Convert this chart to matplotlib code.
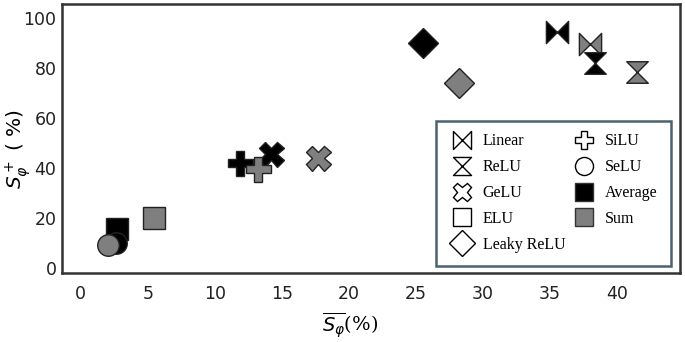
import matplotlib
matplotlib.use("Agg")
import matplotlib.pyplot as plt
from matplotlib.path import Path
from matplotlib.lines import Line2D
import numpy as np

activations = ["Linear", "ReLU", "GeLU", "ELU", "Leaky ReLU", "SiLU", "SeLU"]
avg_x = [35.5, 38.4, 14.2, 2.7, 25.5, 11.9, 2.6]
avg_y = [94.5, 82.0, 45.5, 15.5, 90.0, 42.0, 9.8]
sum_x = [38.0, 41.5, 17.7, 5.5, 28.2, 13.2, 2.0]
sum_y = [89.5, 78.5, 44.0, 20.0, 74.0, 39.5, 9.0]
agg_labels = ["Average", "Sum"]
agg_colors = ["#000000", "#7f7f7f"]
xticks = [0, 5, 10, 15, 20, 25, 30, 35, 40]
yticks = [0, 20, 40, 60, 80, 100]

bowtie = Path([(-1, -1), (0, 0), (-1, 1), (-1, -1), (1, 1), (0, 0), (1, -1), (1, 1)],
              [Path.MOVETO, Path.LINETO, Path.LINETO, Path.CLOSEPOLY,
               Path.MOVETO, Path.LINETO, Path.LINETO, Path.CLOSEPOLY])
hourglass = Path([(-1, 1), (1, 1), (0, 0), (-1, 1), (-1, -1), (1, -1), (0, 0), (-1, -1)],
                 [Path.MOVETO, Path.LINETO, Path.LINETO, Path.CLOSEPOLY,
                  Path.MOVETO, Path.LINETO, Path.LINETO, Path.CLOSEPOLY])
markers = {"Linear": bowtie, "ReLU": hourglass, "GeLU": "X", "ELU": "s",
           "Leaky ReLU": "D", "SiLU": "P", "SeLU": "o"}
msize = {"Linear": 16, "ReLU": 15.5, "GeLU": 18, "ELU": 16,
         "Leaky ReLU": 15.5, "SiLU": 18, "SeLU": 15.5}

fig = plt.figure(figsize=(6.85, 3.42), dpi=100)
ax = fig.add_axes([0.0905, 0.202, 0.902, 0.786])

edge = "#222222"
for i, a in enumerate(activations):
    pts = [(avg_x[i], avg_y[i], agg_colors[0]), (sum_x[i], sum_y[i], agg_colors[1])]
    for (x, y, c) in pts:
        ax.plot([x], [y], linestyle="none", marker=markers[a], markersize=msize[a],
                markerfacecolor=c, markeredgecolor=edge, markeredgewidth=1.0, zorder=3)

ax.set_xlim(-1.4, 44.7)
ax.set_ylim(-2, 105.5)
ax.set_xticks(xticks)
ax.set_yticks(yticks)
ax.tick_params(length=0, labelsize=12.5, colors="#222222")
ax.tick_params(axis="x", pad=9)
ax.tick_params(axis="y", pad=4)
for s in ax.spines.values():
    s.set_linewidth(1.8)
    s.set_color("#333333")

ax.set_xlabel(r"$\overline{S_\varphi}$(%)", fontsize=14, family="DejaVu Serif")
ax.set_ylabel(r"$S_\varphi^+$ ( %)", fontsize=14.5)
ax.xaxis.set_label_coords(0.466, -0.14)
ax.yaxis.set_label_coords(-0.047, 0.46)

handles = []
for a in ["Linear", "ReLU", "GeLU", "ELU", "Leaky ReLU", "SiLU", "SeLU"]:
    handles.append(Line2D([], [], linestyle="none", marker=markers[a], markersize=13,
                          markerfacecolor="white", markeredgecolor="black",
                          markeredgewidth=1.0, label=a))
for lab, c in zip(agg_labels, agg_colors):
    handles.append(Line2D([], [], linestyle="none", marker="s", markersize=13,
                          markerfacecolor=c, markeredgecolor="#333333",
                          markeredgewidth=1.0, label=lab))

leg = ax.legend(handles=handles, ncol=2, loc="lower right",
                bbox_to_anchor=(0.998, -0.003), prop={"family": "Liberation Serif", "size": 11.5},
                frameon=True, fancybox=False, edgecolor="#1e3a48", borderpad=0.8,
                labelspacing=0.62, columnspacing=0.4, handletextpad=0.5, handlelength=1.6)
leg.get_frame().set_linewidth(1.8)

fig.savefig("out.png", dpi=100)
